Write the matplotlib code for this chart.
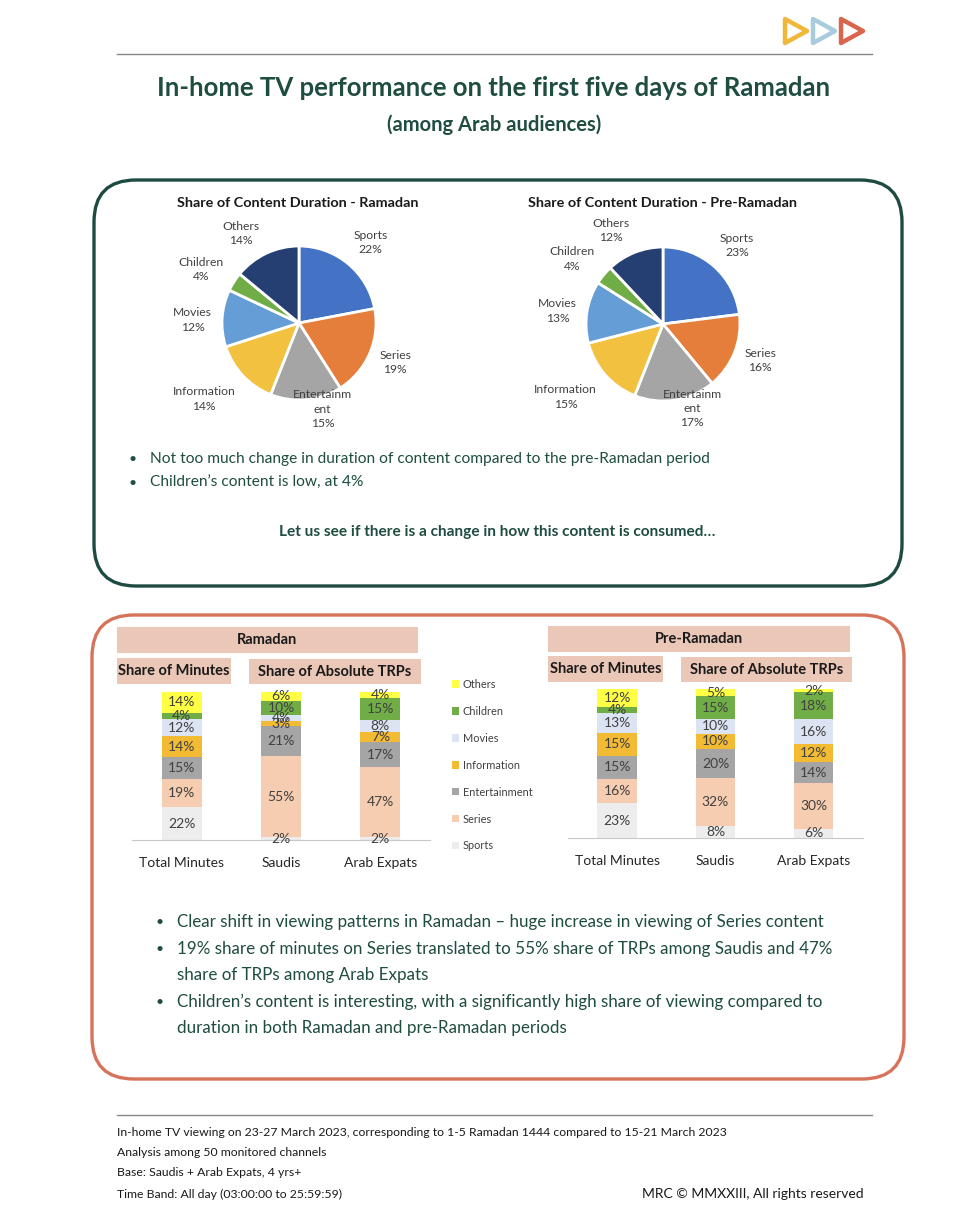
import matplotlib
matplotlib.use('Agg')
import matplotlib.pyplot as plt
from matplotlib.patches import FancyBboxPatch, Polygon, Rectangle
import numpy as np

W, H = 979, 1232
plt.rcParams['font.family'] = ['Lato', 'DejaVu Sans']

# ---------------- data ----------------
categories = ['Sports', 'Series', 'Entertainment', 'Information', 'Movies', 'Children', 'Others']
pie_labels = ['Sports', 'Series', 'Entertainm\nent', 'Information', 'Movies', 'Children', 'Others']
pie_ramadan = [22, 19, 15, 14, 12, 4, 14]
pie_pre = [23, 16, 17, 15, 13, 4, 12]

bar_groups = ['Total Minutes', 'Saudis', 'Arab Expats']
ram_total = [22, 19, 15, 14, 12, 4, 14]
ram_saudis = [2, 55, 21, 3, 4, 10, 6]
ram_expats = [2, 47, 17, 7, 8, 15, 4]
pre_total = [23, 16, 15, 15, 13, 4, 12]
pre_saudis = [8, 32, 20, 10, 10, 15, 5]
pre_expats = [6, 30, 14, 12, 16, 18, 2]

# ---------------- styles ----------------
pie_colors = ['#4472C4', '#E57E3A', '#A5A5A5', '#F2C140', '#659DD6', '#70AD47', '#263F73']
bar_colors = ['#EDEDED', '#F6CDB0', '#A5A5A5', '#F3BB33', '#DCE3F2', '#70AD47', '#FFFF44']
label_dist = [1.40, 1.35, 1.16, 1.58, 1.38, 1.45, 1.39]
label_dang = [-2, 1, 10, -4.5, 2, 4, 7.7]
GREEN = '#1F4D40'
TXT = '#404040'
BAND = '#EAC7B7'


def box(x0, y0, x1, y1):
    return [x0 / W, 1 - y1 / H, (x1 - x0) / W, (y1 - y0) / H]


fig = plt.figure(figsize=(W / 100, H / 100), dpi=100)
fig.patch.set_facecolor('white')

ax0 = fig.add_axes([0, 0, 1, 1], zorder=0)
ax0.set_xlim(0, W)
ax0.set_ylim(H, 0)
ax0.axis('off')

# logo
for (x, c) in [(785, '#F0B73A'), (813, '#A8CCDD'), (841, '#D9654D')]:
    ax0.add_patch(Polygon([(x, 19), (x, 43), (x + 22, 31)], closed=True, fill=False,
                          edgecolor=c, lw=3.2, joinstyle='round'))
ax0.plot([117, 872], [54, 54], color='#888888', lw=1)

ax0.text(494, 88, 'In-home TV performance on the first five days of Ramadan', ha='center', va='center',
         fontsize=18.5, fontweight='bold', color=GREEN)
ax0.text(494, 125, '(among Arab audiences)', ha='center', va='center', fontsize=14.5,
         fontweight='bold', color=GREEN)

# rounded boxes
ax0.add_patch(FancyBboxPatch((94, 180), 808, 406, boxstyle='round,pad=0,rounding_size=42',
                             fill=False, edgecolor='#1E4B41', lw=2.4))
ax0.add_patch(FancyBboxPatch((92, 615), 812, 464, boxstyle='round,pad=0,rounding_size=42',
                             fill=False, edgecolor='#D6735A', lw=2.4))

ax0.text(298, 203, 'Share of Content Duration - Ramadan', ha='center', va='center', fontsize=10.4,
         fontweight='bold', color='#1a1a1a')
ax0.text(663, 203, 'Share of Content Duration - Pre-Ramadan', ha='center', va='center', fontsize=10.4,
         fontweight='bold', color='#1a1a1a')

bul1 = ['Not too much change in duration of content compared to the pre-Ramadan period',
        'Children\u2019s content is low, at 4%']
for i, t in enumerate(bul1):
    y = 459 + 24 * i
    ax0.text(133, y, '\u2022', ha='center', va='center', fontsize=10, color=GREEN)
    ax0.text(150, y, t, ha='left', va='center', fontsize=11.2, color=GREEN)
ax0.text(497, 532, 'Let us see if there is a change in how this content is consumed\u2026', ha='center',
         va='center', fontsize=11.1, fontweight='bold', color=GREEN)

# header bands
bands = [((117, 627, 418, 653), 'Ramadan'), ((117, 658, 231, 684), 'Share of Minutes'),
         ((249, 659, 421, 684), 'Share of Absolute TRPs'),
         ((548, 626, 850, 652), 'Pre-Ramadan'), ((548, 656, 663, 682), 'Share of Minutes'),
         ((681, 657, 852, 682), 'Share of Absolute TRPs')]
for (x0, y0, x1, y1), t in bands:
    ax0.add_patch(Rectangle((x0, y0), x1 - x0, y1 - y0, facecolor=BAND, edgecolor='none'))
    ax0.text((x0 + x1) / 2, (y0 + y1) / 2, t, ha='center', va='center', fontsize=10.5,
             fontweight='bold', color='#1a1a1a')

bul2 = [(True, 'Clear shift in viewing patterns in Ramadan \u2013 huge increase in viewing of Series content'),
        (True, '19% share of minutes on Series translated to 55% share of TRPs among Saudis and 47%'),
        (False, 'share of TRPs among Arab Expats'),
        (True, 'Children\u2019s content is interesting, with a significantly high share of viewing compared to'),
        (False, 'duration in both Ramadan and pre-Ramadan periods')]
ys = [922, 949, 975, 1002, 1028]
for (b, t), y in zip(bul2, ys):
    if b:
        ax0.text(160, y, '\u2022', ha='center', va='center', fontsize=10, color=GREEN)
    ax0.text(177, y, t, ha='left', va='center', fontsize=12.25, color=GREEN)

# footer
ax0.plot([117, 872], [1115, 1115], color='#888888', lw=1)
foot = ['In-home TV viewing on 23-27 March 2023, corresponding to 1-5 Ramadan 1444 compared to 15-21 March 2023',
        'Analysis among 50 monitored channels',
        'Base: Saudis + Arab Expats, 4 yrs+',
        'Time Band: All day (03:00:00 to 25:59:59)']
for t, y in zip(foot, [1133, 1153, 1173, 1194]):
    ax0.text(117, y, t, ha='left', va='center', fontsize=8.8, color='#1a1a1a')
ax0.text(864, 1194, 'MRC \u00a9 MMXXIII, All rights reserved', ha='right', va='center', fontsize=10,
         color='#1a1a1a')

# ---------------- pies ----------------
for (cx, cy), vals in [((299, 323), pie_ramadan), ((663, 324), pie_pre)]:
    r = 77
    ax = fig.add_axes(box(cx - r, cy - r, cx + r, cy + r), zorder=2)
    ax.patch.set_alpha(0)
    wedges, texts = ax.pie(vals, labels=[f'{l}\n{v}%' for l, v in zip(pie_labels, vals)],
                           colors=pie_colors, startangle=90, counterclock=False,
                           wedgeprops=dict(edgecolor='white', linewidth=2),
                           textprops=dict(fontsize=8.7, color=TXT))
    for w, t, d, da in zip(wedges, texts, label_dist, label_dang):
        th = np.deg2rad((w.theta1 + w.theta2) / 2 + da)
        t.set_position((d * np.cos(th), d * np.sin(th)))
        t.set_ha('center')
        t.set_va('center')
        t.set_multialignment('center')
        t.set_linespacing(1.35)
    ax.set_xlim(-1, 1)
    ax.set_ylim(-1, 1)
    ax.set_aspect('equal')


# ---------------- bars ----------------
def stacked(pos, series, show_legend=False):
    ax = fig.add_axes(box(*pos), zorder=2)
    ax.patch.set_alpha(0)
    data = np.array(series, dtype=float)
    norm = data / data.sum(axis=1, keepdims=True) * 100
    x = np.arange(len(bar_groups))
    bottom = np.zeros(len(bar_groups))
    handles = []
    for j, cat in enumerate(categories):
        bars = ax.bar(x, norm[:, j], 0.4, bottom=bottom, color=bar_colors[j], label=cat)
        ax.bar_label(bars, labels=[f'{int(v)}%' for v in data[:, j]], label_type='center',
                     fontsize=10, color=TXT)
        bottom += norm[:, j]
        handles.append(bars)
    ax.set_xlim(-0.5, 2.5)
    ax.set_ylim(0, 100)
    ax.set_xticks(x)
    ax.set_xticklabels(bar_groups, fontsize=10, color='#262626')
    ax.tick_params(axis='x', length=0, pad=12)
    ax.set_yticks([])
    for s in ['top', 'left', 'right']:
        ax.spines[s].set_visible(False)
    ax.spines['bottom'].set_color('#C8C8C8')
    if show_legend:
        fig.legend(handles[::-1], categories[::-1], loc='upper left',
                   bbox_to_anchor=(452 / W, 1 - 679 / H), frameon=False, fontsize=7.9,
                   labelspacing=1.45, handlelength=0.65, handleheight=0.65, handletextpad=0.35,
                   borderpad=0, borderaxespad=0, labelcolor=TXT)
    return ax


stacked((132, 692, 430, 840), [ram_total, ram_saudis, ram_expats], show_legend=True)
stacked((568, 689, 863, 838), [pre_total, pre_saudis, pre_expats])

fig.savefig('out.png', dpi=100, facecolor='white')
